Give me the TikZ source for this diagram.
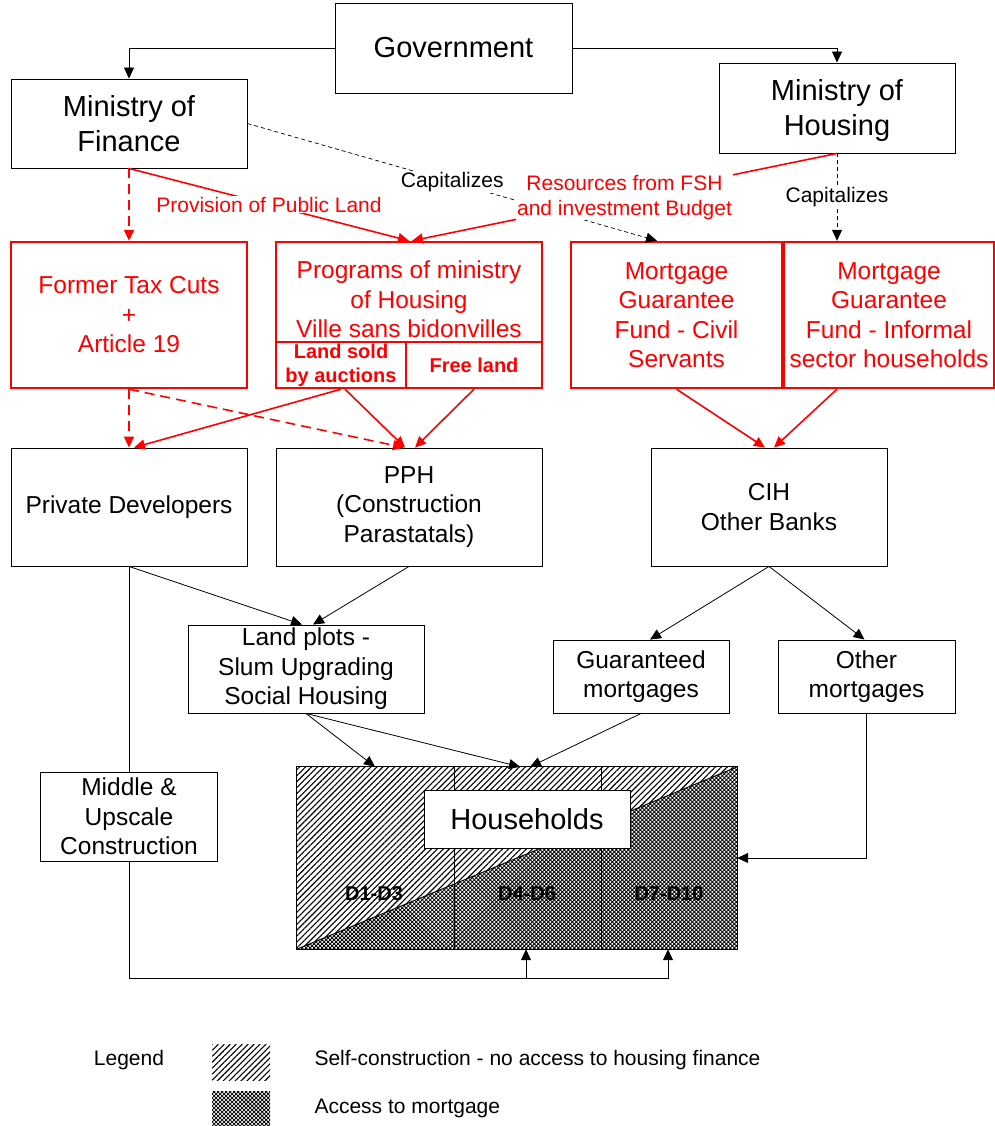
\documentclass[tikz,border=0pt]{standalone}
\usepackage{fontspec}
\setmainfont{Liberation Sans}
\usetikzlibrary{arrows.meta,patterns.meta}
\newcommand{\txtL}{\fontsize{29}{35}\selectfont}
\newcommand{\txtM}{\fontsize{24.5}{29.5}\selectfont}
\newcommand{\txtS}{\fontsize{21}{25}\selectfont}
\newcommand{\txtB}{\fontsize{20}{24}\selectfont\bfseries}
\begin{document}
\begin{tikzpicture}[x=1pt, y=-1pt, >={Triangle[length=11pt,width=10pt]},
	box/.style={draw, line width=0.9pt, align=center, inner sep=0pt, font=\txtM},
	redbox/.style={box, draw=red, text=red, line width=2.4pt},
	flow/.style={->, line width=0.8pt},
	redflow/.style={->, draw=red, line width=1.6pt},
	reddash/.style={redflow, dash pattern=on 10pt off 6pt},
	capflow/.style={->, line width=0.7pt, dash pattern=on 4pt off 3pt},
	lbl/.style={fill=white, inner sep=1pt, font=\txtS, align=center},
	redlbl/.style={lbl, text=red},
	hatch/.style={pattern={Lines[angle=45, distance=4.2pt, line width=1.1pt]}},
	xhatch/.style={pattern={Hatch[angle=45, distance=2.83pt, line width=0.85pt]}}]
	\useasboundingbox (0,0) rectangle (994,1126);
	% top level
	\node[box, font=\txtL, minimum width=237pt, minimum height=90pt] (gov) at (453.5,48) {Government};
	\node[box, font=\txtL, minimum width=236pt, minimum height=89pt] (mof) at (129,123.5) {Ministry of\\Finance};
	\node[box, font=\txtL, minimum width=236pt, minimum height=90pt, text height=62pt] (moh) at (837,108) {Ministry of\\Housing};
	\draw[flow] (gov.west) -| (mof.north);
	\draw[flow] (gov.east) -| (moh.north);
	% programs and funds
	\node[redbox, minimum width=236pt, minimum height=146pt] (tax) at (129,315) {Former Tax Cuts\\+\\Article 19};
	\node[redbox, minimum width=266pt, minimum height=100pt, text height=92pt] (prog) at (409,292) {Programs of ministry\\of Housing\\Ville sans bidonvilles};
	\node[redbox, font=\txtB, minimum width=130pt, minimum height=46pt] (sold) at (341,365) {Land sold\\by auctions};
	\node[redbox, font=\txtB, minimum width=136pt, minimum height=46pt] (free) at (474,365) {Free land};
	\node[redbox, minimum width=211pt, minimum height=146pt] (civ) at (676.5,315) {Mortgage\\Guarantee\\Fund - Civil\\Servants};
	\node[redbox, minimum width=210pt, minimum height=146pt] (inf) at (889,315) {Mortgage\\Guarantee\\Fund - Informal\\sector households};
	\draw[capflow] (mof.east) -- node[lbl] {Capitalizes} ([xshift=-19.5pt]civ.north);
	\draw[capflow] (moh.south) -- node[lbl] {Capitalizes} (moh.south |- inf.north);
	\draw[reddash] (mof.south) -- (tax.north);
	\draw[redflow] (mof.south) -- node[redlbl] {Provision of Public Land} (prog.north);
	\draw[redflow] (moh.south) -- node[redlbl] {Resources from FSH\\and investment Budget} ([xshift=3pt]prog.north);
	% actors
	\node[box, minimum width=236pt, minimum height=118pt] (pd) at (129,507) {Private Developers};
	\node[box, minimum width=266pt, minimum height=118pt] (pph) at (409,507) {PPH\\(Construction\\Parastatals)};
	\node[box, minimum width=236pt, minimum height=118pt] (cih) at (769,507) {CIH\\Other Banks};
	\draw[reddash] (tax.south) -- (pd.north);
	\draw[reddash] (tax.south) -- ([xshift=-5pt]pph.north);
	\draw[redflow] (sold.south) -- ([xshift=5pt]pd.north);
	\draw[redflow] ([xshift=4pt]sold.south) -- ([xshift=-4pt]pph.north);
	\draw[redflow] (free.south) -- ([xshift=6pt]pph.north);
	\draw[redflow] (civ.south) -- ([xshift=-4pt]cih.north);
	\draw[redflow] ([xshift=-52pt]inf.south) -- ([xshift=5pt]cih.north);
	% products
	\node[box, minimum width=236pt, minimum height=88pt] (lp) at (306,669) {Land plots -\\Slum Upgrading\\Social Housing};
	\node[box, minimum width=176pt, minimum height=73pt] (gm) at (641,676.5) {Guaranteed\\mortgages};
	\node[box, minimum width=177pt, minimum height=73pt] (om) at (866.5,676.5) {Other\\mortgages};
	\draw[flow] (pd.south) -- ([xshift=-4pt]lp.north);
	\draw[flow] (pph.south) -- ([xshift=7pt]lp.north);
	\draw[flow] (cih.south) -- ([xshift=9pt]gm.north);
	\draw[flow] (cih.south) -- ([xshift=-2pt]om.north);
	% households
	\node[minimum width=440pt, minimum height=182pt, inner sep=0pt] (hh) at (517,858) {};
	\fill[hatch] (hh.south west) -- (hh.north west) -- (hh.north east) -- cycle;
	\fill[xhatch] (hh.south west) -- (hh.south east) -- (hh.north east) -- cycle;
	\draw[line width=0.9pt] (hh.south west) -- (hh.north east);
	\draw[line width=0.9pt] ([xshift=-63pt]hh.north) -- ([xshift=-63pt]hh.south)
		([xshift=84pt]hh.north) -- ([xshift=84pt]hh.south);
	\draw[line width=1.3pt] (hh.north west) rectangle (hh.south east);
	\node[font=\txtB] (d1) at (374,894) {D1-D3};
	\node[font=\txtB] (d4) at (527,894) {D4-D6};
	\node[font=\txtB] (d7) at (669,894) {D7-D10};
	\node[box, fill=white, font=\txtL, minimum width=206pt, minimum height=58pt] (hhl) at (527,819) {Households};
	\draw[flow] (lp.south) -- ([xshift=-142pt]hh.north);
	\draw[flow] (lp.south) -- ([xshift=3pt]hh.north);
	\draw[flow] (gm.south) -- ([xshift=13pt]hh.north);
	\draw[flow] (om.south) |- (hh.east);
	% self built route
	\coordinate (bus) at (129,978);
	\node[box, minimum width=177pt, minimum height=89pt] (mu) at (129,816.5) {Middle \&\\Upscale\\Construction};
	\draw[line width=0.8pt] (pd.south) -- (mu.north);
	\draw[flow] (mu.south) -- (bus) -| ([xshift=151pt]hh.south);
	\draw[flow] ([xshift=9pt]hh.south |- bus) -- ([xshift=9pt]hh.south);
	% legend
	\node[font=\txtS] (leg) at (129,1060) {Legend};
	\node[hatch, minimum width=58pt, minimum height=36pt, inner sep=0pt] (key1) at (241,1062) {};
	\node[xhatch, minimum width=58pt, minimum height=35pt, inner sep=0pt] (key2) at (241,1108.5) {};
	\node[font=\txtS, anchor=west] (txt1) at (311,1060) {Self-construction - no access to housing finance};
	\node[font=\txtS, anchor=west] (txt2) at (311,1108) {Access to mortgage};
\end{tikzpicture}
\end{document}
